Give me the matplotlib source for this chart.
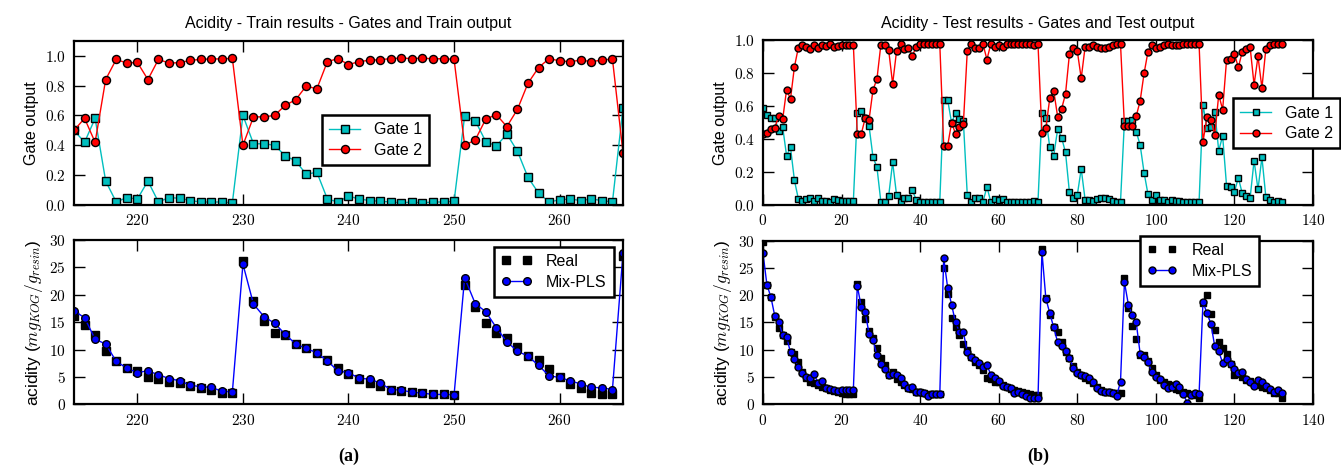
import matplotlib
matplotlib.use("Agg")
import matplotlib.pyplot as plt
from matplotlib.ticker import FuncFormatter, MultipleLocator

plt.rcParams['font.family'] = ['Liberation Sans', 'DejaVu Sans']
plt.rcParams['mathtext.fontset'] = 'cm'

# ---------------- data ----------------
train_x = list(range(214, 267))
train_gate1 = [0.50, 0.42, 0.58, 0.16, 0.02, 0.05, 0.04, 0.16, 0.02, 0.05, 0.045, 0.03, 0.02, 0.02, 0.02, 0.015,
               0.60, 0.41, 0.41, 0.40, 0.33, 0.295, 0.205, 0.22, 0.04, 0.02,
               0.06, 0.04, 0.03, 0.025, 0.02, 0.015, 0.02, 0.015, 0.02, 0.02, 0.025,
               0.595, 0.565, 0.425, 0.395, 0.475, 0.36, 0.185, 0.08, 0.02, 0.035, 0.04, 0.03, 0.04, 0.03, 0.02, 0.65]
train_gate2 = [0.50, 0.58, 0.42, 0.84, 0.975, 0.95, 0.955, 0.84, 0.975, 0.95, 0.953, 0.968, 0.975, 0.978, 0.978, 0.982,
               0.40, 0.59, 0.59, 0.60, 0.667, 0.705, 0.797, 0.777, 0.96, 0.98,
               0.94, 0.96, 0.969, 0.973, 0.98, 0.984, 0.98, 0.984, 0.978, 0.98, 0.975,
               0.40, 0.435, 0.575, 0.605, 0.525, 0.64, 0.815, 0.92, 0.98, 0.965, 0.96, 0.97, 0.96, 0.97, 0.978, 0.35]
train_real = [16.1, 14.4, 12.7, 9.7, 7.9, 6.7, 6.0, 5.05, 4.6, 4.0, 3.8, 3.35, 2.9, 2.55, 2.1, 2.0,
              26.2, 18.9, 15.3, 13.1, 12.7, 11.0, 10.2, 9.4, 8.0, 6.7,
              5.5, 4.6, 3.8, 3.35, 2.7, 2.4, 2.2, 2.0, 1.8, 1.8, 1.75,
              21.7, 17.7, 14.85, 13.1, 12.05, 10.5, 8.9, 8.0, 6.45, 4.9, 3.7, 3.0, 2.0, 1.9, 1.8, 27.0]
train_mix = [17.1, 15.8, 11.9, 11.0, 7.85, 6.6, 5.8, 6.1, 5.4, 4.7, 4.3, 3.5, 3.2, 3.1, 2.4, 2.25,
             25.6, 18.3, 16.0, 14.8, 12.8, 11.0, 10.2, 9.4, 7.9, 6.1,
             5.8, 4.75, 4.6, 3.9, 2.7, 2.6, 2.2, 2.05, 1.8, 1.8, 1.75,
             23.1, 18.4, 16.9, 14.0, 11.4, 9.7, 8.8, 7.1, 5.2, 4.9, 4.3, 3.7, 3.1, 3.0, 2.7, 27.6]

test_x = list(range(0, 133))
test_gate1 = [0.59, 0.55, 0.53, 0.53, 0.45, 0.475, 0.30, 0.35, 0.15, 0.037,
              0.024, 0.034, 0.045, 0.026, 0.04, 0.024, 0.026, 0.018, 0.034, 0.032,
              0.026, 0.024, 0.022, 0.022, 0.56, 0.57, 0.53, 0.48, 0.29, 0.23,
              0.02, 0.02, 0.057, 0.26, 0.06, 0.018, 0.045, 0.04, 0.09, 0.032,
              0.018, 0.018, 0.02, 0.02, 0.02, 0.02, 0.64, 0.64, 0.50, 0.56,
              0.52, 0.51, 0.06, 0.02, 0.045, 0.045, 0.02, 0.11, 0.018, 0.035,
              0.03, 0.035, 0.02, 0.02, 0.02, 0.02, 0.02, 0.018, 0.018, 0.025,
              0.02, 0.56, 0.53, 0.35, 0.30, 0.46, 0.41, 0.32, 0.077, 0.04,
              0.06, 0.22, 0.03, 0.03, 0.025, 0.035, 0.04, 0.045, 0.035, 0.025,
              0.02, 0.018, 0.51, 0.51, 0.517, 0.446, 0.365, 0.197, 0.065, 0.03,
              0.06, 0.03, 0.03, 0.02, 0.03, 0.024, 0.026, 0.02, 0.018, 0.018,
              0.018, 0.018, 0.61, 0.466, 0.477, 0.568, 0.33, 0.42, 0.115, 0.11,
              0.08, 0.165, 0.07, 0.055, 0.044, 0.27, 0.095, 0.29, 0.048, 0.028,
              0.02, 0.024, 0.02]
test_gate2 = [0.43, 0.44, 0.46, 0.47, 0.54, 0.52, 0.70, 0.645, 0.84, 0.957,
              0.974, 0.963, 0.95, 0.97, 0.957, 0.97, 0.967, 0.978, 0.963, 0.966,
              0.97, 0.97, 0.974, 0.974, 0.434, 0.43, 0.527, 0.519, 0.70, 0.765,
              0.974, 0.974, 0.94, 0.736, 0.937, 0.978, 0.95, 0.957, 0.907, 0.96,
              0.98, 0.98, 0.98, 0.98, 0.98, 0.98, 0.36, 0.36, 0.50, 0.434,
              0.477, 0.493, 0.937, 0.978, 0.953, 0.953, 0.978, 0.884, 0.98, 0.96,
              0.97, 0.963, 0.978, 0.978, 0.98, 0.978, 0.978, 0.98, 0.98, 0.974,
              0.978, 0.436, 0.467, 0.65, 0.694, 0.537, 0.584, 0.675, 0.917, 0.953,
              0.937, 0.77, 0.963, 0.963, 0.97, 0.96, 0.957, 0.953, 0.963, 0.974,
              0.98, 0.98, 0.483, 0.483, 0.48, 0.54, 0.633, 0.80, 0.933, 0.97,
              0.957, 0.96, 0.97, 0.98, 0.97, 0.974, 0.974, 0.978, 0.98, 0.98,
              0.98, 0.98, 0.385, 0.533, 0.517, 0.426, 0.67, 0.58, 0.883, 0.887,
              0.919, 0.836, 0.933, 0.95, 0.958, 0.731, 0.903, 0.711, 0.95, 0.97,
              0.98, 0.978, 0.98]
test_real = [29.8, 21.9, 19.7, 16.1, 14.05, 12.7, 11.6, 9.65, 9.2, 7.8,
             6.0, 4.76, 4.15, 3.85, 3.5, 3.2, 2.9, 2.6, 2.5, 2.3,
             2.0, 1.9, 1.9, 1.8, 22.0, 18.7, 15.6, 13.4, 12.1, 10.3,
             8.4, 7.2, 5.4, 6.0, 4.6, 4.15, 3.5, 2.9, 2.8, 2.3,
             2.2, 2.0, 1.9, 1.8, 1.8, 1.8, 25.0, 20.2, 15.9, 14.2,
             12.7, 11.0, 10.0, 8.7, 7.8, 7.2, 6.3, 4.9, 4.6, 4.15,
             4.0, 3.5, 3.2, 2.8, 2.6, 2.4, 2.3, 2.0, 1.8, 1.7,
             1.7, 28.4, 19.5, 16.4, 14.2, 13.3, 11.5, 9.65, 8.4, 7.1,
             6.0, 5.4, 4.9, 4.5, 3.85, 3.2, 2.6, 2.3, 2.2, 2.1,
             2.1, 2.0, 23.2, 17.7, 14.4, 12.0, 9.0, 9.0, 7.9, 6.65,
             5.4, 4.4, 4.1, 3.8, 3.5, 2.8, 2.6, 2.3, 2.0, 1.8,
             1.7, 1.2, 18.6, 20.0, 16.5, 13.6, 11.4, 10.3, 9.25, 7.4,
             5.45, 5.6, 5.0, 4.4, 4.2, 3.8, 3.5, 3.2, 3.0, 2.6,
             2.1, 2.0, 1.1]
test_mix = [27.7, 21.9, 19.7, 16.2, 15.15, 12.7, 12.4, 9.5, 8.3, 6.9,
            5.7, 5.07, 4.76, 5.5, 3.97, 4.3, 3.05, 2.75, 2.6, 2.44,
            2.7, 2.7, 2.7, 2.7, 21.75, 17.9, 17.0, 12.9, 11.8, 9.0,
            7.3, 6.5, 5.4, 5.5, 5.4, 4.8, 3.7, 2.9, 3.2, 2.3,
            2.3, 2.1, 1.5, 1.8, 1.8, 1.8, 26.8, 21.4, 18.3, 15.0,
            13.3, 13.2, 9.65, 8.7, 8.1, 7.5, 6.9, 7.2, 5.4, 4.8,
            4.3, 3.4, 3.2, 2.9, 2.1, 2.3, 1.8, 1.5, 1.1, 1.1,
            1.1, 28.0, 19.4, 16.7, 14.1, 11.4, 10.6, 9.8, 8.55, 6.7,
            5.7, 5.4, 5.25, 4.8, 4.0, 2.9, 2.5, 2.3, 2.2, 2.0,
            1.6, 4.1, 22.4, 18.3, 16.3, 15.0, 9.3, 8.65, 7.7, 5.9,
            5.0, 4.6, 3.5, 2.9, 3.2, 3.8, 3.1, 1.8, 0.3, 1.7,
            2.0, 1.9, 18.75, 16.7, 14.8, 10.6, 9.7, 7.6, 8.35, 7.3,
            6.5, 5.8, 5.9, 4.7, 4.1, 3.4, 4.4, 4.0, 3.4, 2.8,
            2.3, 2.6, 2.1]

gate_labels = ['Gate 1', 'Gate 2']
acid_labels = ['Real', 'Mix-PLS']
titles = ['Acidity - Train results - Gates and Train output',
          'Acidity - Test results - Gates and Test output']
captions = ['(a)', '(b)']

# ---------------- figure ----------------
W, H = 1341, 473
fig = plt.figure(figsize=(W / 100, H / 100), dpi=100)


def pix_axes(x0, y0, x1, y1):
    return fig.add_axes([x0 / W, 1 - y1 / H, (x1 - x0) / W, (y1 - y0) / H])


ax_lt = pix_axes(74, 40.7, 623, 205)
ax_lb = pix_axes(74, 240, 623, 404.3)
ax_rt = pix_axes(763, 40.5, 1313, 205)
ax_rb = pix_axes(763, 240.7, 1313, 404.3)

cyan = (0.0, 0.75, 0.75)
mk = dict(markeredgecolor='black', markeredgewidth=1.0)


def style(ax, fmt):
    for s in ax.spines.values():
        s.set_linewidth(1.6)
        s.set_color('black')
    ax.tick_params(direction='in', which='major', length=8, width=1.0,
                   top=True, right=True, labelsize=11, pad=6, colors='black')
    ax.xaxis.set_major_formatter(FuncFormatter(lambda v, p: r'$%d$' % round(v)))
    ax.yaxis.set_major_formatter(FuncFormatter(fmt))


gate_fmt = lambda v, p: r'$%.1f$' % v
acid_fmt = lambda v, p: r'$%d$' % round(v)

leg_kw = dict(frameon=True, fancybox=False, framealpha=1, edgecolor='black',
              fontsize=11.5, borderaxespad=0, handlelength=1.9, handletextpad=0.9,
              borderpad=0.45, labelspacing=0.35)
acid_ylabel = r'acidity ($mg_{KOG}/g_{resin}$)'

# Left top: gates (train)
ax_lt.plot(train_x, train_gate1, '-s', color=cyan, lw=1.0, ms=5.8, markerfacecolor=cyan, label=gate_labels[0], **mk)
ax_lt.plot(train_x, train_gate2, '-o', color='red', lw=1.0, ms=5.8, markerfacecolor='red', label=gate_labels[1], **mk)
ax_lt.set_xlim(214, 266)
ax_lt.set_ylim(0, 1.1)
ax_lt.xaxis.set_major_locator(MultipleLocator(10))
ax_lt.yaxis.set_major_locator(MultipleLocator(0.2))
style(ax_lt, gate_fmt)
ax_lt.set_ylabel('Gate output', fontsize=11.5)
ax_lt.set_title(titles[0], fontsize=11.5, pad=9)
lg = ax_lt.legend(loc='upper left', bbox_to_anchor=(0.452, 0.548), **leg_kw)
lg.get_frame().set_linewidth(1.8)

# Left bottom: acidity (train)
ax_lb.plot(train_x, train_real, 's', color='black', ms=5.8, label=acid_labels[0])
ax_lb.plot(train_x, train_mix, '-o', color='blue', lw=1.0, ms=5.5, markerfacecolor='blue', label=acid_labels[1], **mk)
ax_lb.set_xlim(214, 266)
ax_lb.set_ylim(0, 30)
ax_lb.xaxis.set_major_locator(MultipleLocator(10))
ax_lb.yaxis.set_major_locator(MultipleLocator(5))
style(ax_lb, acid_fmt)
ax_lb.set_ylabel(acid_ylabel, fontsize=12.5, labelpad=3)
lg = ax_lb.legend(loc='upper left', bbox_to_anchor=(0.765, 0.959), numpoints=2, **leg_kw)
lg.get_frame().set_linewidth(1.8)

# Right top: gates (test)
ax_rt.plot(test_x, test_gate1, '-s', color=cyan, lw=1.0, ms=5.0, markerfacecolor=cyan, label=gate_labels[0], **mk)
ax_rt.plot(test_x, test_gate2, '-o', color='red', lw=1.0, ms=5.0, markerfacecolor='red', label=gate_labels[1], **mk)
ax_rt.set_xlim(0, 140)
ax_rt.set_ylim(0, 1.0)
ax_rt.xaxis.set_major_locator(MultipleLocator(20))
ax_rt.yaxis.set_major_locator(MultipleLocator(0.2))
style(ax_rt, gate_fmt)
ax_rt.set_ylabel('Gate output', fontsize=11.5)
ax_rt.set_title(titles[1], fontsize=11.5, pad=9)
lg = ax_rt.legend(loc='upper left', bbox_to_anchor=(0.855, 0.648), **leg_kw)
lg.get_frame().set_linewidth(1.8)

# Right bottom: acidity (test)
ax_rb.plot(test_x, test_real, 's', color='black', ms=5.0, label=acid_labels[0])
ax_rb.plot(test_x, test_mix, '-o', color='blue', lw=1.0, ms=5.0, markerfacecolor='blue', label=acid_labels[1], **mk)
ax_rb.set_xlim(0, 140)
ax_rb.set_ylim(0, 30)
ax_rb.xaxis.set_major_locator(MultipleLocator(20))
ax_rb.yaxis.set_major_locator(MultipleLocator(5))
style(ax_rb, acid_fmt)
ax_rb.set_ylabel(acid_ylabel, fontsize=12.5, labelpad=3)
lg = ax_rb.legend(loc='upper left', bbox_to_anchor=(0.685, 1.03), numpoints=2, **leg_kw)
lg.get_frame().set_linewidth(1.8)

fig.text(348.5 / W, 1 - 456 / H, captions[0], ha='center', va='center',
         family=['Liberation Serif', 'DejaVu Serif'], fontweight='bold', fontsize=13)
fig.text(1038 / W, 1 - 456 / H, captions[1], ha='center', va='center',
         family=['Liberation Serif', 'DejaVu Serif'], fontweight='bold', fontsize=13)

fig.savefig('out.png', dpi=100)
